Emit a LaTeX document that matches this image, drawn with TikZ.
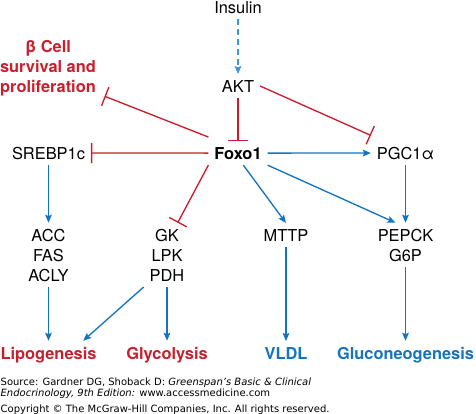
\documentclass[tikz,border=0pt]{standalone}
\usepackage{fontspec}
\setmainfont{TeX Gyre Heros}
\newfontfamily\footfont{DejaVu Sans}
\usetikzlibrary{arrows.meta,positioning}
\definecolor{fxred}{RGB}{200,30,45}
\definecolor{fxblue}{RGB}{20,115,190}
\definecolor{fxlight}{RGB}{60,150,215}

\begin{document}
\begin{tikzpicture}[x=0.75pt, y=-0.75pt, >={Stealth[length=6pt, width=5pt, inset=1pt]}, line width=1pt]
			\tikzstyle{gene}=[font=\fontsize{12.3}{15}\selectfont, align=center, inner sep=4pt, anchor=base]
			\tikzstyle{hub}=[gene, font=\fontsize{12.3}{15}\selectfont\bfseries]
			\tikzstyle{redout}=[hub, text=fxred]
			\tikzstyle{blueout}=[hub, text=fxblue]
			\tikzstyle{act}=[draw=fxblue, ->]
			\tikzstyle{inh}=[draw=fxred, -{Bar[width=15pt]}]
			\tikzstyle{foot}=[font=\footfont\fontsize{7.5}{8.25}\selectfont, align=left, inner sep=0pt, anchor=base west]
			\useasboundingbox (0,0) rectangle (476,414);
			% regulators (multi-line nodes sit on their last line)
			\node[gene] (insulin) at (238,13) {Insulin};
			\node[gene] (akt) at (238,92) {AKT};
			\node[hub] (foxo) at (238,159) {Foxo1};
			\node[gene] (srebp) at (48.5,159) {SREBP1c};
			\node[gene] (pgc) at (405.5,159) {PGC1α};
			\node[redout] (beta) at (48,92) {β Cell\\survival and\\proliferation};
			% target genes
			\node[gene] (acc) at (48.5,281) {ACC\\FAS\\ACLY};
			\node[gene] (gk) at (167,281) {GK\\LPK\\PDH};
			\node[gene] (mttp) at (286,241) {MTTP};
			\node[gene] (pepck) at (405.5,261) {PEPCK\\G6P};
			% outcomes
			\node[redout] (lipo) at (48.5,359) {Lipogenesis};
			\node[redout] (glyco) at (167,359) {Glycolysis};
			\node[blueout] (vldl) at (286,359) {VLDL};
			\node[blueout] (gluco) at (405.5,359) {Gluconeogenesis};
			% source
			\node[foot] (source) at (0,396) {Source: Gardner DG, Shoback D: \textit{Greenspan’s Basic \& Clinical}\\\textit{Endocrinology, 9th Edition:} www.accessmedicine.com};
			\node[foot] (copy) at (0,412) {Copyright © The McGraw-Hill Companies, Inc. All rights reserved.};
			% connectors
			\draw[act, draw=fxlight, dash pattern=on 4.5pt off 3pt] (insulin) -- (akt);
			\draw[inh] (akt) -- (foxo);
			\draw[inh] (akt.east) -- ([yshift=4pt]pgc.north west);
			\draw[inh] ([yshift=3pt]foxo.north west) -- ([xshift=2pt, yshift=4pt]beta.south east);
			\draw[inh] (foxo) -- (srebp);
			\draw[inh] (foxo.south west) -- ([xshift=8pt]gk.north);
			\draw[act] (foxo) -- (pgc);
			\draw[act] ([xshift=4pt]foxo.south) -- (mttp.north);
			\draw[act] (foxo.south east) -- ([xshift=-7.5pt]pepck.north);
			\draw[act] (pgc) -- (pepck);
			\draw[act] (srebp) -- (acc);
			\draw[act] (acc) -- (lipo);
			\draw[act] (gk.south west) -- ([xshift=26pt]lipo.north);
			\draw[act] (gk) -- (glyco);
			\draw[act] (mttp) -- (vldl);
			\draw[act] (pepck) -- (gluco);
		\end{tikzpicture}
\end{document}
